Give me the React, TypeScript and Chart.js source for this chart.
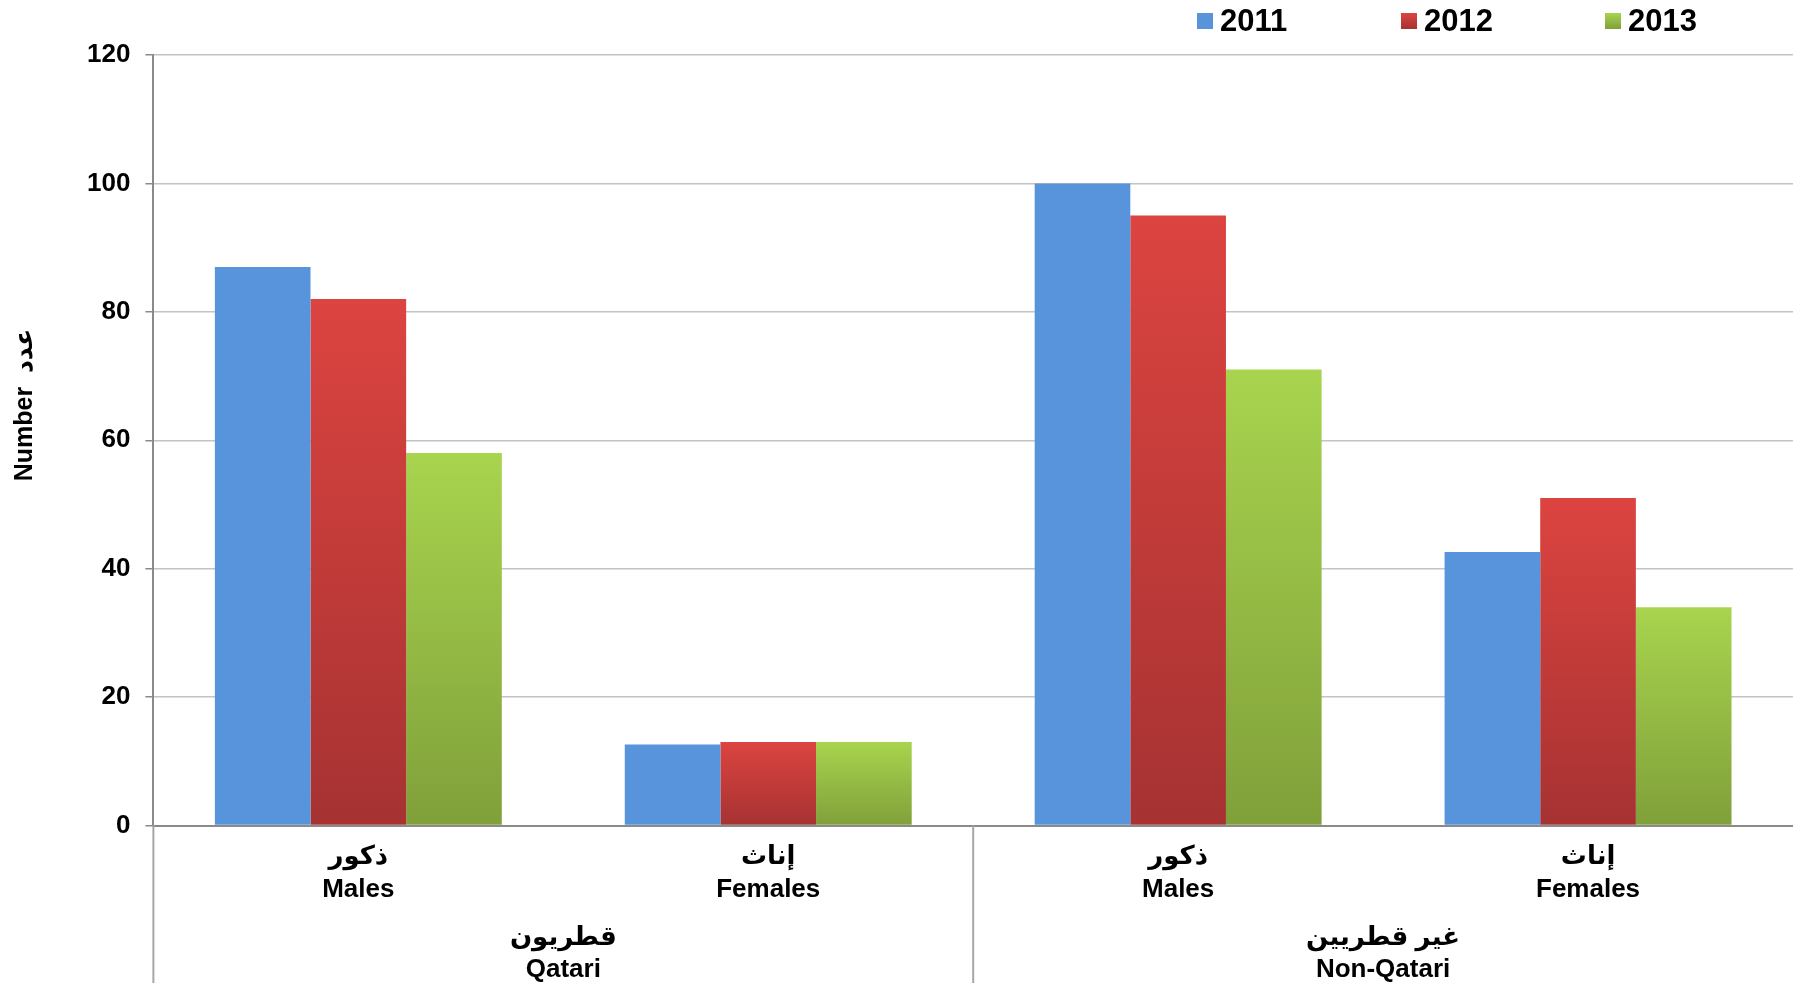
import React, { useEffect, useRef } from 'react';
import { Chart, registerables } from 'chart.js';

Chart.register(...registerables);

// ---- data ----
const categories: string[][] = [
  ['ذكور', 'Males'],
  ['إناث', 'Females'],
  ['ذكور', 'Males'],
  ['إناث', 'Females'],
];
const groups: string[][] = [
  ['قطريون', 'Qatari'],
  ['غير قطريين', 'Non-Qatari'],
];
const years = ['2011', '2012', '2013'];
const values2011 = [87, 12.6, 100, 42.6];
const values2012 = [82, 13, 95, 51];
const values2013 = [58, 13, 71, 34];
const yMin = 0;
const yMax = 120;
const yStep = 20;
const yTitle = 'Number  عدد';

// ---- styles ----
const colorTop = ['#5894DC', '#DC4440', '#A8D44E'];
const colorBottom = ['#5894DC', '#A63232', '#80A03A'];
const FONT = '"Liberation Sans", Arial, "DejaVu Sans", sans-serif';

function barFill(i: number) {
  return (ctx: any) => {
    const chart = ctx.chart;
    if (!chart.chartArea || ctx.type !== 'data') return colorTop[i];
    const ys = chart.scales.y;
    const top = ys.getPixelForValue(ctx.raw);
    const bottom = ys.getPixelForValue(0);
    if (!isFinite(top) || !isFinite(bottom) || top === bottom) return colorTop[i];
    const g = chart.ctx.createLinearGradient(0, top, 0, bottom);
    g.addColorStop(0, colorTop[i]);
    g.addColorStop(1, colorBottom[i]);
    return g;
  };
}

const decorPlugin = {
  id: 'decor',
  afterDraw(chart: any) {
    const { ctx, chartArea, scales } = chart;
    const x = scales.x;
    ctx.save();
    // category separators below the axis
    ctx.strokeStyle = '#A6A6A6';
    ctx.lineWidth = 2;
    const mid = (x.getPixelForValue(1) + x.getPixelForValue(2)) / 2;
    [chartArea.left, mid].forEach((px: number) => {
      ctx.beginPath();
      ctx.moveTo(px, chartArea.bottom);
      ctx.lineTo(px, chart.height);
      ctx.stroke();
    });
    ctx.restore();

    // y axis title
    ctx.save();
    ctx.translate(25, chart.height * 0.412);
    ctx.rotate(-Math.PI / 2);
    ctx.font = `bold 25px ${FONT}`;
    ctx.textAlign = 'center';
    ctx.textBaseline = 'middle';
    ctx.fillStyle = '#000';
    ctx.fillText(yTitle, 0, 0);
    ctx.restore();

    // legend
    ctx.save();
    const startX = chart.width * 0.6676;
    const step = 204;
    const boxSize = 16;
    const boxY = 13;
    ctx.font = `bold 31px ${FONT}`;
    ctx.textAlign = 'left';
    ctx.textBaseline = 'middle';
    years.forEach((label, i) => {
      const bx = startX + i * step;
      const g = ctx.createLinearGradient(0, boxY, 0, boxY + boxSize);
      g.addColorStop(0, colorTop[i]);
      g.addColorStop(1, colorBottom[i]);
      ctx.fillStyle = g;
      ctx.fillRect(bx, boxY, boxSize, boxSize);
      ctx.fillStyle = '#000';
      ctx.fillText(label, bx + boxSize + 7, boxY + boxSize / 2 + 1);
    });
    ctx.restore();
  },
};

export default function App() {
  const canvasRef = useRef<HTMLCanvasElement | null>(null);

  useEffect(() => {
    document.body.style.margin = '0';
    const canvas = canvasRef.current;
    if (!canvas) return;
    const seriesValues = [values2011, values2012, values2013];
    const chart = new Chart(canvas, {
      type: 'bar',
      data: {
        labels: categories,
        datasets: years.map((y, i) => ({
          label: y,
          data: seriesValues[i],
          backgroundColor: barFill(i),
          borderWidth: 0,
          categoryPercentage: 0.7,
          barPercentage: 1.0,
        })),
      },
      options: {
        animation: false,
        responsive: true,
        maintainAspectRatio: false,
        layout: { padding: { top: 55, left: 72, right: 0, bottom: -3.5 } },
        plugins: {
          legend: { display: false },
          tooltip: { enabled: false },
          title: { display: false },
        },
        scales: {
          x: {
            type: 'category',
            position: 'bottom',
            grid: { display: false, drawTicks: false },
            border: { display: true, color: '#8A8A8A', width: 2 },
            ticks: {
              color: '#000',
              font: { family: FONT, size: 26, weight: 'bold', lineHeight: 1.27 },
              padding: 14.5,
              maxRotation: 0,
              autoSkip: false,
            },
          },
          x2: {
            type: 'category',
            position: 'bottom',
            labels: groups,
            offset: true,
            grid: { display: false, drawTicks: false },
            border: { display: false },
            ticks: {
              color: '#000',
              font: { family: FONT, size: 26, weight: 'bold', lineHeight: 1.23 },
              padding: 1,
              maxRotation: 0,
              autoSkip: false,
            },
          },
          y: {
            min: yMin,
            max: yMax,
            ticks: {
              stepSize: yStep,
              color: '#000',
              font: { family: FONT, size: 26, weight: 'bold' },
              padding: 15,
            },
            grid: {
              color: (c: any) => (c.tick && c.tick.value === 0 ? '#8A8A8A' : '#C4C4C4'),
              lineWidth: 1.5,
              tickLength: 8,
              tickColor: '#8A8A8A',
            },
            border: { display: true, color: '#8A8A8A', width: 2 },
          },
        },
      },
      plugins: [decorPlugin],
    });
    return () => chart.destroy();
  }, []);

  return (
    <div style={{ position: 'fixed', left: 0, top: 0, width: '100vw', height: '100vh' }}>
      <canvas ref={canvasRef} />
    </div>
  );
}
